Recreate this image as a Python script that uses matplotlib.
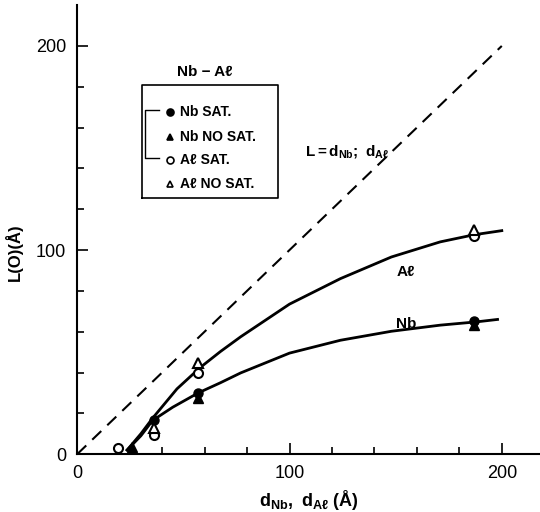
import matplotlib
matplotlib.use('Agg')
import matplotlib.pyplot as plt
import numpy as np

plt.rcParams['font.family'] = ['Liberation Sans', 'DejaVu Sans']
plt.rcParams['mathtext.fontset'] = 'custom'
plt.rcParams['mathtext.rm'] = 'Liberation Sans:bold'
plt.rcParams['mathtext.it'] = 'Liberation Sans:bold'
plt.rcParams['mathtext.bf'] = 'Liberation Sans:bold'

# measured points
nb_sat_x = [36, 57, 187]
nb_sat_y = [16.7, 30, 65]
nb_nosat_x = [26, 57, 187]
nb_nosat_y = [3.5, 27.5, 63.5]
al_sat_x = [19, 36, 57, 187]
al_sat_y = [3, 9.3, 39.7, 107]
al_nosat_x = [36, 57, 187]
al_nosat_y = [12.7, 44.5, 110]

# hand-drawn curves
al_curve_x = [23.5, 30, 35.5, 47, 58, 67.5, 77, 100, 124, 148, 171, 187, 200]
al_curve_y = [2, 10, 17.6, 32, 42.5, 50.3, 57.5, 73.5, 86, 96.6, 104, 107.5, 109.5]
nb_curve_x = [23.5, 30, 35.5, 45, 57, 67.5, 77, 100, 124, 148, 171, 188, 198]
nb_curve_y = [2, 9, 16.5, 23, 30, 35, 39.8, 49.5, 55.8, 60.2, 63.2, 64.8, 66]

diag = [0, 200]

fig = plt.figure(figsize=(5.4, 5.12), dpi=100)
ax = fig.add_axes([0.143, 0.113, 0.857, 0.877])

ax.plot(diag, diag, 'k--', lw=1.5, dashes=(6, 4))
ax.plot(al_curve_x, al_curve_y, 'k-', lw=2, solid_joinstyle='round')
ax.plot(nb_curve_x, nb_curve_y, 'k-', lw=2, solid_joinstyle='round')

ms = 6.5
ax.vlines(al_sat_x[0], 0, al_sat_y[0], color='k', lw=1.5)
ax.plot(nb_sat_x, nb_sat_y, 'ko', ms=ms, zorder=3)
ax.plot(nb_nosat_x, nb_nosat_y, 'k^', ms=ms, zorder=3)
ax.plot(al_sat_x, al_sat_y, 'o', mfc='white', mec='k', mew=1.5, ms=ms, zorder=4)
ax.plot(al_nosat_x, al_nosat_y, '^', mfc='white', mec='k', mew=1.5, ms=ms, zorder=4)

ax.set_xlim(0, 218)
ax.set_ylim(0, 220)
for s in ['top', 'right']:
    ax.spines[s].set_visible(False)
for s in ['left', 'bottom']:
    ax.spines[s].set_linewidth(1.5)

ax.set_xticks([0, 100, 200])
ax.set_yticks([0, 100, 200])
ax.set_xticks(np.arange(0, 220, 20), minor=True)
ax.set_yticks(np.arange(0, 220, 20), minor=True)
ax.tick_params(which='major', direction='in', length=8, width=1.2, labelsize=13, pad=8)
ax.tick_params(which='minor', direction='in', length=5, width=1.2)

ax.set_xlabel(r'$\mathrm{d_{Nb},\ d_{A\ell}}$ (Å)', fontsize=13, fontweight='bold', labelpad=4)
ax.set_ylabel('L(O)(Å)', fontsize=12, fontweight='bold')
ax.yaxis.set_label_coords(-0.118, 0.45)

ax.text(107.5, 146, r'$\mathrm{L = d_{Nb};\ d_{A\ell}}$', fontsize=11)
ax.text(155, 89, 'Aℓ', fontsize=11, fontweight='bold', ha='center', va='center')
ax.text(155, 64, 'Nb', fontsize=11, fontweight='bold', ha='center', va='center')

# legend block
ax.text(60, 187, 'Nb − Aℓ', fontsize=11, fontweight='bold', ha='center', va='center')
box_x0, box_x1 = 30.7, 94.8
box_y0, box_y1 = 125.5, 180.9
ax.plot([box_x0, box_x1, box_x1, box_x0, box_x0],
        [box_y0, box_y0, box_y1, box_y1, box_y0], 'k-', lw=1.2)
leg_labels = ['Nb SAT.', 'Nb NO SAT.', 'Aℓ SAT.', 'Aℓ NO SAT.']
leg_y = [167.6, 155.4, 144.1, 132.4]
leg_mark = ['o', '^', 'o', '^']
leg_fill = ['k', 'k', 'white', 'white']
for lab, yy, mk, fc in zip(leg_labels, leg_y, leg_mark, leg_fill):
    ax.plot([43.8], [yy], mk, mfc=fc, mec='k', mew=1.2, ms=5)
    ax.text(48.5, yy, lab, fontsize=10, fontweight='bold', va='center')
ax.plot([38.7, 31.9, 31.9, 38.7], [168.6, 168.6, 145.1, 145.1], 'k-', lw=1)

fig.savefig('out.png', dpi=100)
